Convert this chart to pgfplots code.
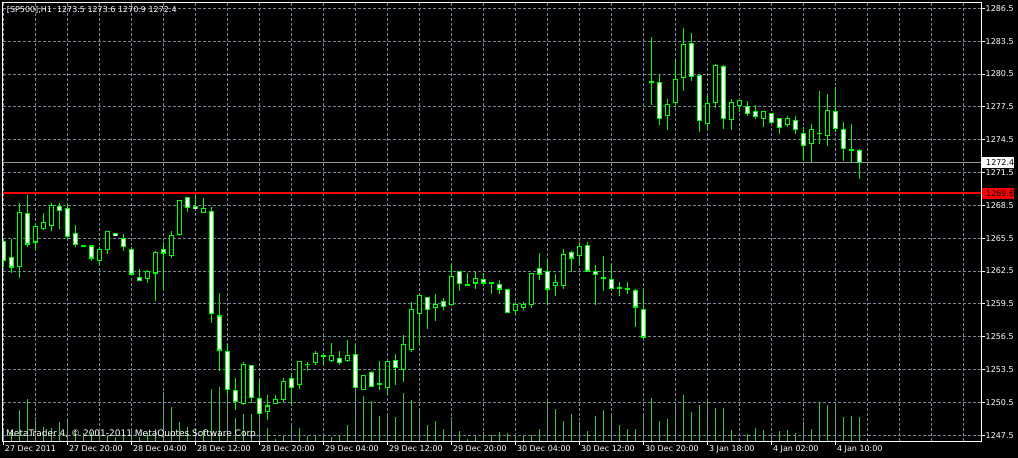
\documentclass[border=0pt]{standalone}
\usepackage{pgfplots}
\pgfplotsset{compat=1.18}
\usepackage{pgfplotstable}
\usepackage{fontspec}
\setmainfont{DejaVu Sans}
\definecolor{candle}{RGB}{0,255,0}
\definecolor{vol}{RGB}{50,205,50}
\definecolor{gridc}{RGB}{119,136,153}
\definecolor{bidc}{RGB}{150,150,155}

\pgfplotstableread{
i O H L C V
0 1265.18 1265.30 1262.89 1263.47 11
1 1263.71 1265.45 1262.34 1262.89 11
2 1262.95 1268.74 1261.85 1267.83 31
3 1267.74 1269.41 1264.72 1264.99 42
4 1265.18 1266.91 1264.41 1266.55 24
5 1266.37 1267.83 1266.30 1266.91 14
6 1266.70 1268.74 1266.15 1268.50 13
7 1268.38 1268.74 1266.30 1268.01 19
8 1268.20 1268.74 1265.45 1265.70 21
9 1265.91 1266.76 1264.72 1264.90 11
10 1264.80 1264.93 1264.66 1264.78 8
11 1264.78 1264.93 1263.41 1263.71 9
12 1263.50 1264.72 1263.10 1264.45 9
13 1264.48 1266.18 1264.10 1266.15 6
14 1265.91 1265.95 1265.70 1265.73 4
15 1265.45 1265.94 1264.32 1264.72 6
16 1264.45 1264.72 1262.20 1262.25 11
17 1261.88 1262.71 1261.65 1261.70 4
18 1261.88 1262.60 1261.40 1262.46 8
19 1262.34 1264.38 1259.75 1264.20 12
20 1264.45 1265.18 1260.82 1264.17 49
21 1263.96 1266.18 1263.68 1265.73 34
22 1265.88 1269.05 1265.70 1268.93 19
23 1269.20 1269.25 1267.89 1268.29 14
24 1268.38 1269.50 1268.15 1268.20 11
25 1267.89 1269.20 1267.77 1268.20 11
26 1267.92 1268.38 1257.77 1258.68 52
27 1258.38 1260.45 1253.35 1255.30 54
28 1255.18 1255.85 1251.20 1251.73 55
29 1251.55 1252.74 1249.78 1250.57 23
30 1250.45 1254.20 1250.30 1253.93 27
31 1253.84 1253.96 1250.45 1251.00 27
32 1250.88 1252.46 1249.40 1249.54 25
33 1249.69 1251.21 1248.87 1250.18 13
34 1250.45 1251.21 1250.40 1250.73 2
35 1250.82 1252.74 1250.45 1252.37 5
36 1252.71 1253.20 1250.30 1251.91 18
37 1252.19 1254.25 1251.73 1254.20 13
38 1253.99 1254.20 1253.35 1253.99 5
39 1254.20 1255.24 1253.93 1254.93 5
40 1254.78 1255.02 1253.90 1254.78 7
41 1254.35 1255.94 1254.17 1254.75 4
42 1254.48 1255.24 1253.90 1254.20 5
43 1254.35 1256.24 1254.17 1254.75 16
44 1254.84 1255.85 1251.80 1251.91 50
45 1251.73 1253.00 1251.60 1252.92 45
46 1253.20 1253.35 1251.90 1251.98 40
47 1252.22 1254.32 1251.67 1252.22 25
48 1251.88 1254.25 1251.30 1254.20 25
49 1254.29 1254.96 1252.13 1253.74 24
50 1253.53 1256.70 1252.34 1255.76 48
51 1255.33 1259.69 1255.15 1258.99 41
52 1258.65 1260.30 1255.63 1260.24 33
53 1260.05 1260.10 1257.25 1259.02 16
54 1259.20 1260.45 1257.92 1259.45 20
55 1259.69 1260.09 1258.93 1259.29 12
56 1259.48 1263.20 1259.45 1261.98 24
57 1262.43 1262.49 1260.66 1261.40 10
58 1261.24 1262.37 1261.20 1261.24 2
59 1261.43 1262.46 1260.85 1261.79 5
60 1261.70 1262.37 1261.15 1261.43 9
61 1261.42 1261.45 1260.39 1261.40 6
62 1261.24 1261.73 1260.39 1260.88 9
63 1260.79 1260.85 1258.65 1258.68 8
64 1258.93 1259.66 1258.62 1259.45 5
65 1259.20 1259.69 1258.93 1259.45 5
66 1259.48 1262.30 1259.14 1262.25 6
67 1262.71 1264.17 1261.67 1262.25 12
68 1262.46 1263.71 1259.45 1260.88 43
69 1261.24 1262.25 1260.18 1261.43 32
70 1261.21 1264.54 1260.82 1263.99 20
71 1264.17 1264.38 1262.40 1263.71 27
72 1263.90 1265.18 1263.10 1264.72 19
73 1264.81 1265.18 1262.40 1262.52 10
74 1262.46 1263.01 1259.39 1262.25 25
75 1261.88 1263.93 1260.66 1261.88 31
76 1261.70 1263.20 1260.90 1260.94 26
77 1260.97 1261.52 1260.18 1260.91 16
78 1260.88 1261.46 1260.39 1260.88 12
79 1260.70 1260.82 1257.37 1259.23 12
80 1258.96 1260.91 1256.45 1256.49 25
81 1279.81 1283.87 1277.68 1279.81 43
82 1279.75 1280.42 1275.85 1276.43 20
83 1276.70 1278.23 1275.42 1277.74 22
84 1277.92 1281.79 1277.46 1280.02 38
85 1280.21 1284.72 1278.99 1283.23 46
86 1283.32 1284.26 1279.90 1280.30 29
87 1280.39 1280.45 1275.24 1276.27 36
88 1276.00 1278.47 1275.39 1277.83 42
89 1277.92 1281.40 1277.43 1281.30 33
90 1281.21 1281.30 1275.51 1276.46 33
91 1276.37 1278.20 1275.42 1277.92 11
92 1277.62 1278.15 1277.07 1278.10 3
93 1277.55 1278.01 1276.64 1276.91 7
94 1277.10 1277.65 1276.43 1276.64 13
95 1276.46 1277.15 1275.63 1277.10 11
96 1276.91 1276.95 1275.91 1276.09 6
97 1276.46 1276.50 1275.05 1275.63 10
98 1275.91 1276.64 1275.63 1276.46 11
99 1276.27 1276.64 1275.05 1275.45 8
100 1275.05 1275.63 1272.59 1273.99 19
101 1274.17 1275.91 1272.43 1275.45 12
102 1275.09 1278.93 1274.14 1275.09 39
103 1274.87 1278.65 1273.96 1277.19 36
104 1277.10 1279.29 1275.18 1275.54 39
105 1275.45 1276.09 1272.59 1273.71 24
106 1273.59 1275.91 1272.43 1273.59 25
107 1273.53 1273.62 1270.94 1272.43 24
}\bars

\newcommand{\lbl}{\fontsize{8bp}{9.6bp}\selectfont}
\pgfplotsset{
  candlebar/.style={draw=none, mark=none, forget plot,
    error bars/.cd, y dir=both, y explicit, error mark=none,
    error bar style={#1}},
}

\begin{document}
\begin{tikzpicture}[font=\lbl]
\fill[black] (-2.5bp,-16.5bp) rectangle (1015.5bp,441.5bp);
% volumes
\begin{axis}[at={(0,0)}, anchor=south west, scale only axis,
  width=978.5bp, height=439.3bp,
  xmin=-0.1, xmax=122.21, ymin=0, ymax=439.3, hide axis]
\addplot[ycomb, vol, line width=1bp, mark=none] table[x=i, y=V]{\bars};
\end{axis}
% prices
\begin{axis}[at={(0,0)}, anchor=south west, scale only axis,
  width=978.5bp, height=439.3bp,
  xmin=-0.1, xmax=122.21, ymin=1246.93, ymax=1287.06,
  axis line style={white, line width=1bp},
  clip mode=individual,
  xtick={0,8,...,104},
  xticklabels={27 Dec 2011,27 Dec 20:00,28 Dec 04:00,28 Dec 12:00,28 Dec 20:00,29 Dec 04:00,29 Dec 12:00,29 Dec 20:00,30 Dec 04:00,30 Dec 12:00,30 Dec 20:00,3 Jan 18:00,4 Jan 02:00,4 Jan 10:00},
  minor xtick={4,12,20,28,36,44,52,60,68,76,84,92,100,108,112,116,120},
  ytick={1247.5,1250.5,...,1286.5},
  xmajorgrids, xminorgrids, ymajorgrids,
  major grid style={gridc, dash pattern=on 3bp off 2bp, line width=1bp},
  minor grid style={gridc, dash pattern=on 3bp off 2bp, line width=1bp},
  tick align=outside, major tick length=3.5bp, minor tick length=0pt,
  xtick pos=bottom, ytick pos=right, yticklabel pos=right,
  tick style={white, line width=1bp},
  tick label style={white, font=\lbl},
  yticklabel style={anchor=west, inner sep=0pt, xshift=1bp,
    /pgf/number format/.cd, fixed, fixed zerofill, precision=1, 1000 sep={}, assume math mode=true},
  xticklabel style={anchor=north west, inner sep=0pt, xshift=1.5bp},
]
\addplot[bidc, line width=1bp, forget plot] coordinates {(-0.1,1272.4) (122.21,1272.4)};
% wicks
\addplot[candlebar={draw=candle, line width=1bp, solid}]
  table[x=i, y expr={(\thisrow{H}+\thisrow{L})/2}, y error expr={(\thisrow{H}-\thisrow{L})/2}]{\bars};
% body outline
\addplot[candlebar={draw=candle, line width=5bp, solid}]
  table[x=i, y expr={(\thisrow{O}+\thisrow{C})/2}, y error expr={abs(\thisrow{C}-\thisrow{O})/2+0.06}]{\bars};
% bear bodies (white)
\addplot[candlebar={draw=white, line width=3bp, solid}]
  table[x=i, y expr={(\thisrow{O}+\thisrow{C})/2},
        y error expr={(\thisrow{O}>\thisrow{C})*max(abs(\thisrow{C}-\thisrow{O})/2-0.04,0)}]{\bars};
% bull bodies (black)
\addplot[candlebar={draw=black, line width=3bp, solid}]
  table[x=i, y expr={(\thisrow{O}+\thisrow{C})/2},
        y error expr={(\thisrow{C}>\thisrow{O})*max(abs(\thisrow{C}-\thisrow{O})/2-0.04,0)}]{\bars};
\addplot[red, line width=2bp, forget plot] coordinates {(-0.1,1269.6) (122.21,1269.6)};
\node[anchor=west, fill=white, text=black, inner xsep=0pt, inner ysep=0pt, minimum height=10.5bp]
  at (axis cs:122.21,1272.4) [xshift=1bp] {\hspace{4bp}1272.4\hspace{12bp}};
\node[anchor=west, fill=red, text=black, inner xsep=0pt, inner ysep=0pt, minimum height=10.5bp]
  at (axis cs:122.21,1269.6) [xshift=1bp] {\hspace{4bp}1269.6\hspace{12bp}};
\node[anchor=north west, inner sep=0pt, white] at (rel axis cs:0,1) [xshift=4.2bp, yshift=-4.5bp]
  {[SP500],H1\ \ 1273.5 1273.6 1270.9 1272.4};
\node[anchor=base west, inner sep=0pt, white, font=\fontsize{9bp}{10bp}\selectfont] at (rel axis cs:0,0) [xshift=3.5bp, yshift=5.2bp]
  {MetaTrader 4, © 2001-2011 MetaQuotes Software Corp.};
\end{axis}
\pgfresetboundingbox
\path (-2.5bp,-16.5bp) rectangle (1015.5bp,441.5bp);
\end{tikzpicture}
\end{document}
